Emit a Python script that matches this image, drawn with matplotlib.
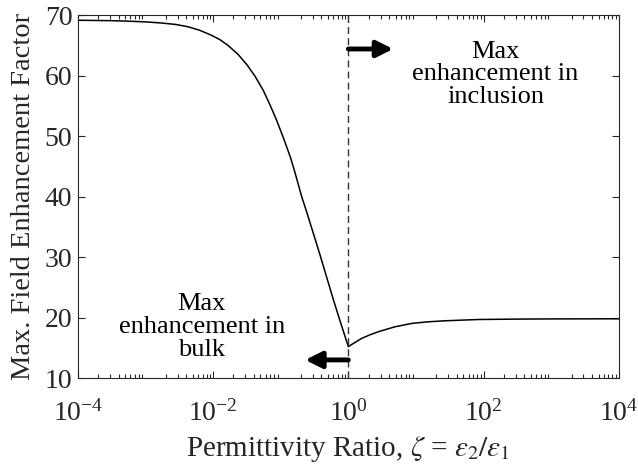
import numpy as np
import matplotlib
matplotlib.use("Agg")
import matplotlib.pyplot as plt
from matplotlib.ticker import LogLocator, LogFormatterMathtext, NullFormatter

plt.rcParams['font.family'] = ['Liberation Serif', 'DejaVu Serif']
plt.rcParams['mathtext.fontset'] = 'stix'

# curve (x as powers of ten)
log_zeta = [-4, -3.5, -3.26, -3, -2.77, -2.55, -2.37, -2.2, -2.03, -1.9, -1.78,
            -1.63, -1.5, -1.38, -1.26, -1.16, -1.06, -0.96, -0.86, -0.8, -0.69,
            -0.62, -0.42, -0.22, -0.11, 0,
            0.1, 0.197, 0.32, 0.44, 0.69, 0.94, 1.18, 1.43, 1.92, 2.5, 3, 4]
max_field = [69.15, 69.08, 69.0, 68.88, 68.7, 68.45, 68.07, 67.5, 66.7, 65.95, 65.0,
             63.5, 61.8, 59.9, 57.6, 55.2, 52.6, 49.7, 46.6, 44.4, 40.0,
             37.6, 30.4, 22.9, 19.0, 15.2,
             15.9, 16.56, 17.15, 17.65, 18.48, 19.04, 19.3, 19.47, 19.68, 19.75, 19.78, 19.8]

zeta = 10.0 ** np.array(log_zeta)

# arrows: start at zeta=1, end points
arrow_y = [64.4, 13.0]
arrow_end = [4.6, 0.23]
notes = ["Max\nenhancement in\ninclusion", "Max\nenhancement in\nbulk"]
note_x = [150, 0.0068]
note_y = [60.2, 18.4]

fig = plt.figure(figsize=(6.38, 4.72), dpi=100)
ax = fig.add_axes([0.122, 0.199, 0.848, 0.769])

ax.plot(zeta, max_field, color='k', lw=1.1)
ax.axvline(1, color='#333333', ls=(0, (5, 3)), lw=1.0)

for y, xe in zip(arrow_y, arrow_end):
    ax.annotate('', xy=(xe, y), xytext=(1, y),
                arrowprops=dict(arrowstyle='-|>,head_length=0.7,head_width=0.35',
                                lw=3.5, color='k', mutation_scale=14,
                                shrinkA=0, shrinkB=0, capstyle='round'))

for t, x, y in zip(notes, note_x, note_y):
    ax.text(x, y, t, ha='center', va='center', fontsize=19, linespacing=1.05)

ax.set_xscale('log')
ax.set_xlim(1e-4, 1e4)
ax.set_ylim(10, 70)
ax.set_xticks([1e-4, 1e-2, 1e0, 1e2, 1e4])
ax.xaxis.set_major_formatter(LogFormatterMathtext())
ax.xaxis.set_minor_locator(LogLocator(base=10, subs=np.arange(2, 10), numticks=20))
ax.xaxis.set_minor_formatter(NullFormatter())
ax.set_yticks([10, 20, 30, 40, 50, 60, 70])

ax.tick_params(which='both', direction='in', top=True, right=True,
               colors='#262626', labelsize=20, width=0.8)
ax.tick_params(which='major', length=5)
ax.tick_params(which='minor', length=3)
ax.tick_params(axis='x', which='major', pad=16)
ax.tick_params(axis='y', which='major', pad=4)
for s in ax.spines.values():
    s.set_color('#262626')
    s.set_linewidth(0.8)

ax.set_xlabel(r'Permittivity Ratio, $\zeta$ = $\epsilon_2/\epsilon_1$', fontsize=21, color='#262626', labelpad=5)
ax.set_ylabel('Max. Field Enhancement Factor', fontsize=20.5, color='#262626', labelpad=6)

fig.savefig('out.png', dpi=100)
